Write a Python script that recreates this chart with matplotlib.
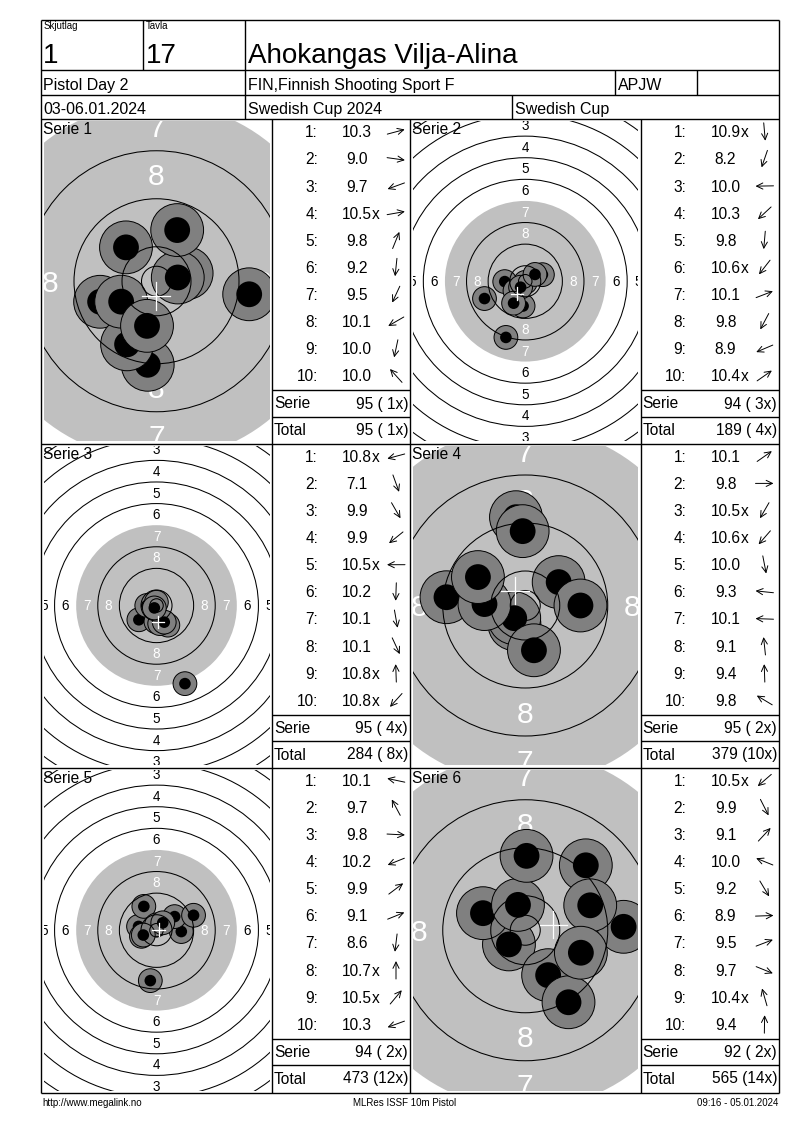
import matplotlib
matplotlib.use('Agg')
import matplotlib.pyplot as plt
from matplotlib.patches import Circle
import numpy as np

plt.rcParams['font.family'] = ['Liberation Sans', 'DejaVu Sans']

# header info
relay = "1"
lane = "17"
shooter = "Ahokangas Vilja-Alina"
event = "Pistol Day 2"
club = "FIN,Finnish Shooting Sport F"
klass = "APJW"
dates = "03-06.01.2024"
competition = "Swedish Cup 2024"
cup = "Swedish Cup"
footer_left = "http://www.megalink.no"
footer_mid = "MLRes ISSF 10m Pistol"
footer_right = "09:16 - 05.01.2024"

# shot values and direction of each shot (degrees, 0 = right, 90 = up)
s1_scores = [10.3, 9.0, 9.7, 10.5, 9.8, 9.2, 9.5, 10.1, 10.0, 10.0]
s1_dirs = [15, -8, 200, 10, 68, 264, 245, 210, 258, 132]
s2_scores = [10.9, 8.2, 10.0, 10.3, 9.8, 10.6, 10.1, 9.8, 8.9, 10.4]
s2_dirs = [275, 251, 181, 223, 265, 232, 21, 242, 203, 35]
s3_scores = [10.8, 7.1, 9.9, 9.9, 10.5, 10.2, 10.1, 10.1, 10.8, 10.8]
s3_dirs = [195, 290, 300, 219, 180, 268, 280, 295, 92, 228]
s4_scores = [10.1, 9.8, 10.5, 10.6, 10.0, 9.3, 10.1, 9.1, 9.4, 9.8]
s4_dirs = [35, 0, 240, 229, 281, 174, 178, 96, 92, 149]
s5_scores = [10.1, 9.7, 9.8, 10.2, 9.9, 9.1, 8.6, 10.7, 10.5, 10.3]
s5_dirs = [168, 118, -3, 202, 37, 22, 263, 90, 50, 200]
s6_scores = [10.5, 9.9, 9.1, 10.0, 9.2, 8.9, 9.5, 9.7, 10.4, 9.4]
s6_dirs = [221, -63, 47, 158, -59, 2, 21, -22, 106, 89]

# target zoom of each serie (px per mm)
zoom = [6.0, 2.7, 2.7, 6.0, 2.7, 6.0]

series = [(s1_scores, s1_dirs), (s2_scores, s2_dirs), (s3_scores, s3_dirs),
          (s4_scores, s4_dirs), (s5_scores, s5_dirs), (s6_scores, s6_dirs)]

W, H = 800, 1130
COL_X = [41, 272, 410, 640.5, 779]
ROW_Y = [119, 443.5, 767.5, 1093]
FS = 11.2
INSET = 2.5
TARGET_GREY = '#c0c0c0'
HOLE_GREY = '#808080'

fig = plt.figure(figsize=(W / 100, H / 100), dpi=100)
fig.patch.set_facecolor('white')
renderer = fig.canvas.get_renderer()


def ring_r(n):
    return 5.75 + 8 * (10 - n)


def shot_xy(score, ang):
    d = (10.9 - score) * 8 + 0.4
    a = np.radians(ang)
    return d * np.cos(a), d * np.sin(a)


def draw_target(px0, py0, px1, py1, scale, scores, dirs):
    # target area sits a little inside the grid lines
    px0, py0, px1, py1 = px0 + INSET, py0 + INSET, px1 - INSET, py1 - INSET
    w, h = px1 - px0, py1 - py0
    xlim, ylim = w / 2 / scale, h / 2 / scale
    tax = fig.add_axes([px0 / W, 1 - py1 / H, w / W, h / H])
    tax.set_xlim(-xlim, xlim)
    tax.set_ylim(-ylim, ylim)
    tax.axis('off')
    tax.add_patch(Circle((0, 0), ring_r(7), fc=TARGET_GREY, ec='none', zorder=1))

    # ring numbers
    fs = 3.6 * scale
    cap = 0.716 * fs * 100 / 72 / scale
    for n in range(1, 9):
        r = ring_r(n) - 4
        col = 'white' if n >= 7 else 'black'
        spots = []
        if r <= ylim:
            spots += [(0, r), (0, -r)]
        if r <= xlim:
            spots += [(r, 0), (-r, 0)]
        for x, y in spots:
            tax.text(x, y - cap / 2, str(n), ha='center', va='baseline', fontsize=fs,
                     color=col, clip_on=True, zorder=2)

    xs, ys = [], []
    for s, a in zip(scores, dirs):
        x, y = shot_xy(s, a)
        xs.append(x)
        ys.append(y)
        tax.add_patch(Circle((x, y), 4.4, fc=HOLE_GREY, ec='black', lw=0.7, zorder=3))
        tax.add_patch(Circle((x, y), 2.15, fc='black', ec='none', zorder=3))

    # ring lines go over the holes
    for n in [1, 2, 3, 4, 5, 6, 8, 9, 10]:
        tax.add_patch(Circle((0, 0), ring_r(n), fill=False, ec='black', lw=0.75, zorder=4))
    tax.add_patch(Circle((0, 0), 2.5, fill=False, ec='black', lw=0.75, zorder=4))

    # mean point of impact
    mx, my = np.mean(xs), np.mean(ys)
    tax.plot([mx - 2.3, mx + 2.3], [my, my], color='white', lw=0.9, zorder=6)
    tax.plot([mx, mx], [my - 2.3, my + 2.3], color='white', lw=0.9, zorder=6)


for i, (scores, dirs) in enumerate(series):
    row, col = i // 2, i % 2
    draw_target(COL_X[2 * col], ROW_Y[row], COL_X[2 * col + 1], ROW_Y[row + 1],
                zoom[i], scores, dirs)

# overlay axes in pixel coordinates for grid and text
ax = fig.add_axes([0, 0, 1, 1], zorder=10)
ax.set_xlim(0, W)
ax.set_ylim(H, 0)
ax.axis('off')
ax.patch.set_alpha(0)

LW = 1.0


def hline(y, x0, x1):
    ax.plot([x0, x1], [y, y], color='black', lw=LW, solid_capstyle='butt')


def vline(x, y0, y1):
    ax.plot([x, x], [y0, y1], color='black', lw=LW, solid_capstyle='butt')


# outer frame and header grid
hline(20, 41, 779)
hline(1093, 41, 779)
vline(41, 20, 1093)
vline(779, 20, 1093)
hline(70, 41, 779)
hline(95, 41, 779)
hline(119, 41, 779)
vline(143, 20, 70)
vline(245, 20, 119)
vline(615, 70, 95)
vline(697, 70, 95)
vline(512, 95, 119)

ax.text(44, 29, "Skjutlag", fontsize=7, va='baseline')
ax.text(146, 29, "Tavla", fontsize=7, va='baseline')
ax.text(43, 63, relay, fontsize=20, va='baseline')
ax.text(146, 63, lane, fontsize=20, va='baseline')
ax.text(248, 63, shooter, fontsize=20, va='baseline')
ax.text(43, 90, event, fontsize=11.5, va='baseline')
ax.text(248, 90, club, fontsize=11.5, va='baseline')
ax.text(618, 90, klass, fontsize=11.5, va='baseline')
ax.text(43, 114, dates, fontsize=11.5, va='baseline')
ax.text(248, 114, competition, fontsize=11.5, va='baseline')
ax.text(515, 114, cup, fontsize=11.5, va='baseline')

# panel grid
for y in ROW_Y[1:-1]:
    hline(y, 41, 779)
for x in COL_X[1:-1]:
    vline(x, 119, 1093)

# score columns
total, total_x = 0, 0
for i, (scores, dirs) in enumerate(series):
    row, col = i // 2, i % 2
    cx0, cx1 = COL_X[2 * col + 1], COL_X[2 * col + 2]
    py0 = ROW_Y[row]
    ax.text(COL_X[2 * col] + 2, py0 + 15.5, f"Serie {i + 1}", fontsize=FS, va='baseline')
    for k, (s, a) in enumerate(zip(scores, dirs)):
        yb = py0 + 18.3 + 27.1 * k
        ax.text(cx0 + 46, yb, f"{k + 1}:", ha='right', va='baseline', fontsize=FS)
        t = ax.text(cx0 + 85, yb, f"{s:.1f}", ha='center', va='baseline', fontsize=FS)
        if s >= 10.4:
            bb = t.get_window_extent(renderer=renderer)
            ax.text(bb.x1, yb, "x", ha='left', va='baseline', fontsize=FS)
        yc = yb - 5.5
        xc = cx0 + 124
        L = 18
        rad = np.radians(a)
        dx, dy = L / 2 * np.cos(rad), -L / 2 * np.sin(rad)
        ax.annotate('', xy=(xc + dx, yc + dy), xytext=(xc - dx, yc - dy),
                    arrowprops=dict(arrowstyle='->,head_length=0.45,head_width=0.22',
                                    lw=0.7, color='black', shrinkA=0, shrinkB=0))
    s_sum = int(sum(int(s) for s in scores))
    s_x = sum(1 for s in scores if s >= 10.4)
    total += s_sum
    total_x += s_x
    hline(py0 + 271, cx0, cx1)
    hline(py0 + 297.5, cx0, cx1)
    ax.text(cx0 + 2, py0 + 289.5, "Serie", fontsize=FS, va='baseline')
    ax.text(cx1 - 2, py0 + 289.5, f"{s_sum} ({s_x:2d}x)", fontsize=FS, ha='right', va='baseline')
    ax.text(cx0 + 2, py0 + 316, "Total", fontsize=FS, va='baseline')
    ax.text(cx1 - 2, py0 + 316, f"{total} ({total_x:2d}x)", fontsize=FS, ha='right', va='baseline')

# footer
ax.text(42, 1106, footer_left, fontsize=7, va='baseline')
ax.text(405, 1106, footer_mid, fontsize=7, ha='center', va='baseline')
ax.text(778, 1106, footer_right, fontsize=7, ha='right', va='baseline')

fig.savefig('out.png', dpi=100, facecolor='white')
